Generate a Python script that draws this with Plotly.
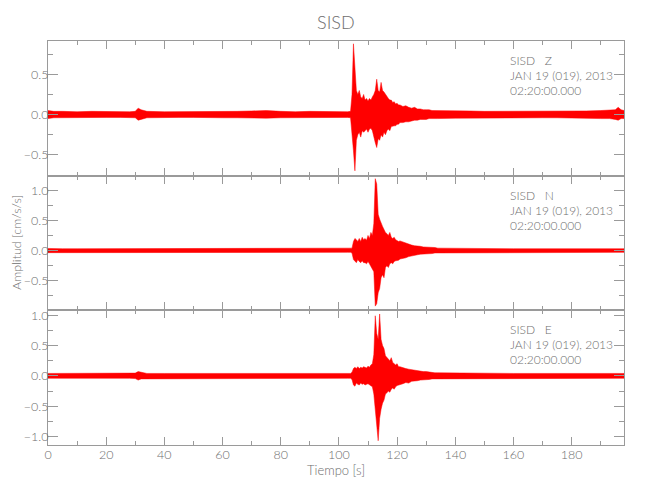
import plotly.graph_objects as go
from plotly.subplots import make_subplots

# ---- data: envelope of each component (time in s, amplitude in cm/s/s)
T = [0, 2, 5, 10, 15, 20, 25, 28, 30, 31, 32, 34, 40, 45, 50, 55, 60, 65, 70, 75, 80, 85, 90, 95, 100, 103,
     104, 104.5, 105, 105.5, 106, 106.5, 107, 107.5, 108, 108.5, 109, 109.5, 110, 110.5, 111, 111.5,
     112, 112.5, 113, 113.5, 114, 114.5, 115, 115.5, 116, 116.5, 117, 117.5, 118, 118.5, 119, 119.5,
     120, 120.5, 121,
     122, 123, 124, 125, 126, 127, 128, 129, 130, 131, 132, 133, 134,
     140, 145, 150, 155, 160, 165, 170, 175, 180, 185, 190,
     193, 195, 196, 197, 198]

Z_up = [0.05, 0.04, 0.04, 0.035, 0.04, 0.035, 0.035, 0.035, 0.04, 0.08, 0.06, 0.04, 0.035, 0.035, 0.04, 0.035,
        0.04, 0.04, 0.045, 0.05, 0.04, 0.035, 0.04, 0.035, 0.035, 0.035,
        0.04, 0.25, 0.88, 0.55, 0.30, 0.25, 0.30, 0.22, 0.20, 0.25, 0.18, 0.20, 0.17, 0.20, 0.18, 0.22,
        0.25, 0.30, 0.44, 0.30, 0.28, 0.40, 0.30, 0.28, 0.25, 0.22, 0.20, 0.18, 0.18, 0.15, 0.16, 0.13,
        0.14, 0.12, 0.12,
        0.10, 0.11, 0.09, 0.08, 0.09, 0.07, 0.07, 0.06, 0.06, 0.06, 0.05, 0.05, 0.05,
        0.045, 0.045, 0.04, 0.04, 0.04, 0.04, 0.04, 0.04, 0.045, 0.045, 0.05,
        0.06, 0.06, 0.09, 0.06, 0.05]
Z_lo = [-0.05, -0.04, -0.035, -0.035, -0.035, -0.035, -0.035, -0.035, -0.04, -0.07, -0.06, -0.04, -0.035, -0.035,
        -0.035, -0.035, -0.04, -0.04, -0.04, -0.045, -0.04, -0.035, -0.035, -0.035, -0.035, -0.035,
        -0.04, -0.20, -0.45, -0.70, -0.32, -0.25, -0.22, -0.28, -0.20, -0.22, -0.20, -0.18, -0.22, -0.18,
        -0.17, -0.20, -0.28, -0.35, -0.41, -0.30, -0.32, -0.25, -0.28, -0.22, -0.25, -0.20, -0.18, -0.20,
        -0.15, -0.15, -0.14, -0.14, -0.12, -0.12, -0.10,
        -0.10, -0.09, -0.09, -0.08, -0.07, -0.07, -0.06, -0.06, -0.06, -0.05, -0.05, -0.05, -0.05,
        -0.045, -0.04, -0.04, -0.04, -0.04, -0.04, -0.04, -0.04, -0.04, -0.045, -0.05,
        -0.05, -0.06, -0.07, -0.05, -0.05]

N_up = [0.035, 0.03, 0.03, 0.03, 0.03, 0.03, 0.03, 0.03, 0.03, 0.035, 0.03, 0.03, 0.03, 0.03, 0.03, 0.03,
        0.03, 0.03, 0.035, 0.03, 0.03, 0.03, 0.03, 0.03, 0.03, 0.03,
        0.03, 0.04, 0.15, 0.20, 0.18, 0.15, 0.20, 0.15, 0.22, 0.18, 0.20, 0.17, 0.25, 0.20, 0.30, 0.25,
        0.45, 1.19, 1.10, 0.60, 0.52, 0.44, 0.40, 0.35, 0.30, 0.28, 0.25, 0.30, 0.22, 0.20, 0.22, 0.18,
        0.17, 0.15, 0.16,
        0.14, 0.13, 0.11, 0.09, 0.08, 0.08, 0.07, 0.06, 0.06, 0.05, 0.05, 0.05, 0.04,
        0.035, 0.035, 0.03, 0.03, 0.03, 0.03, 0.03, 0.03, 0.03, 0.03, 0.03,
        0.03, 0.03, 0.03, 0.03, 0.03]
N_lo = [-0.035, -0.03, -0.03, -0.03, -0.03, -0.03, -0.03, -0.03, -0.03, -0.035, -0.03, -0.03, -0.03, -0.03,
        -0.03, -0.03, -0.03, -0.03, -0.035, -0.03, -0.03, -0.03, -0.03, -0.03, -0.03, -0.03,
        -0.03, -0.04, -0.15, -0.18, -0.20, -0.15, -0.18, -0.20, -0.17, -0.20, -0.20, -0.22, -0.18, -0.22,
        -0.25, -0.30, -0.35, -0.92, -0.88, -0.70, -0.63, -0.45, -0.40, -0.45, -0.28, -0.25, -0.28, -0.22,
        -0.20, -0.22, -0.18, -0.17, -0.16, -0.16, -0.14,
        -0.13, -0.12, -0.10, -0.08, -0.08, -0.07, -0.06, -0.06, -0.05, -0.05, -0.05, -0.04, -0.04,
        -0.035, -0.035, -0.03, -0.03, -0.03, -0.03, -0.03, -0.03, -0.03, -0.03, -0.03,
        -0.03, -0.03, -0.03, -0.03, -0.03]

E_up = [0.04, 0.04, 0.04, 0.04, 0.045, 0.04, 0.04, 0.04, 0.045, 0.07, 0.06, 0.04, 0.04, 0.04, 0.04, 0.04,
        0.04, 0.04, 0.04, 0.04, 0.04, 0.04, 0.04, 0.04, 0.04, 0.04,
        0.04, 0.06, 0.12, 0.14, 0.12, 0.15, 0.12, 0.14, 0.13, 0.15, 0.14, 0.13, 0.16, 0.14, 0.18, 0.20,
        0.35, 0.99, 0.70, 0.60, 1.02, 0.60, 0.50, 0.45, 0.33, 0.30, 0.28, 0.25, 0.30, 0.22, 0.20, 0.18,
        0.20, 0.15, 0.15,
        0.13, 0.12, 0.11, 0.10, 0.09, 0.08, 0.08, 0.07, 0.07, 0.06, 0.06, 0.05, 0.05,
        0.045, 0.045, 0.04, 0.04, 0.04, 0.04, 0.04, 0.04, 0.04, 0.04, 0.04,
        0.04, 0.04, 0.04, 0.04, 0.04]
E_lo = [-0.04, -0.04, -0.04, -0.04, -0.04, -0.04, -0.04, -0.04, -0.045, -0.07, -0.05, -0.04, -0.04, -0.04,
        -0.04, -0.04, -0.04, -0.04, -0.04, -0.04, -0.04, -0.04, -0.04, -0.04, -0.04, -0.04,
        -0.04, -0.06, -0.15, -0.17, -0.12, -0.14, -0.15, -0.12, -0.14, -0.13, -0.15, -0.14, -0.13, -0.15,
        -0.16, -0.18, -0.30, -0.55, -0.80, -1.07, -0.70, -0.55, -0.45, -0.40, -0.30, -0.28, -0.25, -0.27,
        -0.22, -0.20, -0.22, -0.18, -0.16, -0.15, -0.14,
        -0.13, -0.11, -0.12, -0.09, -0.09, -0.08, -0.07, -0.07, -0.06, -0.06, -0.05, -0.05, -0.05,
        -0.045, -0.04, -0.04, -0.04, -0.04, -0.04, -0.04, -0.04, -0.04, -0.04, -0.04,
        -0.04, -0.04, -0.04, -0.04, -0.04]

components = ["Z", "N", "E"]
y_ranges = [[-0.76, 0.915], [-0.99, 1.24], [-1.14, 1.08]]
x_range = [0, 198]
station = "SISD"
date_line = "JAN 19 (019), 2013"
time_line = "02:20:00.000"

FONT = "Lato, Liberation Sans, sans-serif"
WEIGHT = 300
AXC = "#9a9a9a"
TXC = "#6e6e6e"
RED = "#ff0000"

fig = make_subplots(rows=3, cols=1, shared_xaxes=True, vertical_spacing=0)

for i, (up, lo) in enumerate([(Z_up, Z_lo), (N_up, N_lo), (E_up, E_lo)]):
    fig.add_trace(go.Scatter(
        x=T + T[::-1], y=up + lo[::-1], mode="lines", fill="toself",
        fillcolor=RED, line=dict(color=RED, width=0.5), hoverinfo="skip", showlegend=False),
        row=i + 1, col=1)

tfont = dict(family=FONT, size=12.5, color=TXC, weight=WEIGHT)
for i in range(3):
    fig.update_xaxes(range=x_range, dtick=20, showline=True, linecolor=AXC, linewidth=1,
                     mirror="ticks", ticks="inside", ticklen=8, tickcolor=AXC,
                     minor=dict(dtick=10, ticks="inside", ticklen=4, tickcolor=AXC),
                     showgrid=False, zeroline=False, automargin=False, ticklabelstandoff=-2,
                     tickfont=tfont, row=i + 1, col=1)
    fig.update_yaxes(range=y_ranges[i], dtick=0.5, tick0=0, tickformat=".1f",
                     showline=True, linecolor=AXC, linewidth=1, mirror="ticks",
                     ticks="inside", ticklen=10, tickcolor=AXC,
                     minor=dict(dtick=0.25, ticks="inside", ticklen=5, tickcolor=AXC),
                     showgrid=False, zeroline=False, automargin=False, ticklabelstandoff=-4,
                     tickfont=tfont, row=i + 1, col=1)

# page-pixel geometry of the plot area (the page body adds 8 px)
PL, PT, PW, PH = 48.0, 41.0, 576.0, 404.0
def px(p):
    return (p - PL) / PW
def py(p):
    return 1 - (p - PT) / PH

annots = []
panel_tops = [PT, PT + PH / 3, PT + 2 * PH / 3]
for i, comp in enumerate(components):
    top = panel_tops[i]
    lines = [station + "\u00a0\u00a0\u00a0" + comp, date_line, time_line]
    offs = [19.5, 34.5, 49.5]
    for ln, off in zip(lines, offs):
        annots.append(dict(x=px(508), y=py(top + off), xref="paper", yref="paper",
                           text=ln, showarrow=False, xanchor="left", yanchor="middle",
                           font=dict(family=FONT, size=12, color=TXC, weight=WEIGHT)))

annots.append(dict(x=0.5, y=py(22), xref="paper", yref="paper", text=station, showarrow=False,
                   xanchor="center", yanchor="middle",
                   font=dict(family=FONT, size=18, color=TXC, weight=WEIGHT)))
annots.append(dict(x=px(16), y=0.5, xref="paper", yref="paper", text="Amplitud [cm/s/s]",
                   textangle=-90, showarrow=False, xanchor="center", yanchor="middle",
                   font=dict(family=FONT, size=12.5, color=TXC, weight=WEIGHT)))
annots.append(dict(x=0.5, y=py(470), xref="paper", yref="paper", text="Tiempo [s]", showarrow=False,
                   xanchor="center", yanchor="middle",
                   font=dict(family=FONT, size=13, color=TXC, weight=WEIGHT)))

fig.update_layout(width=650, height=500,
                  margin=dict(l=PL - 8, r=650 - (PL - 8) - PW, t=PT - 8, b=500 - (PT - 8) - PH,
                              autoexpand=False),
                  paper_bgcolor="white", plot_bgcolor="white", showlegend=False,
                  annotations=annots)

fig.write_html("out.html")
